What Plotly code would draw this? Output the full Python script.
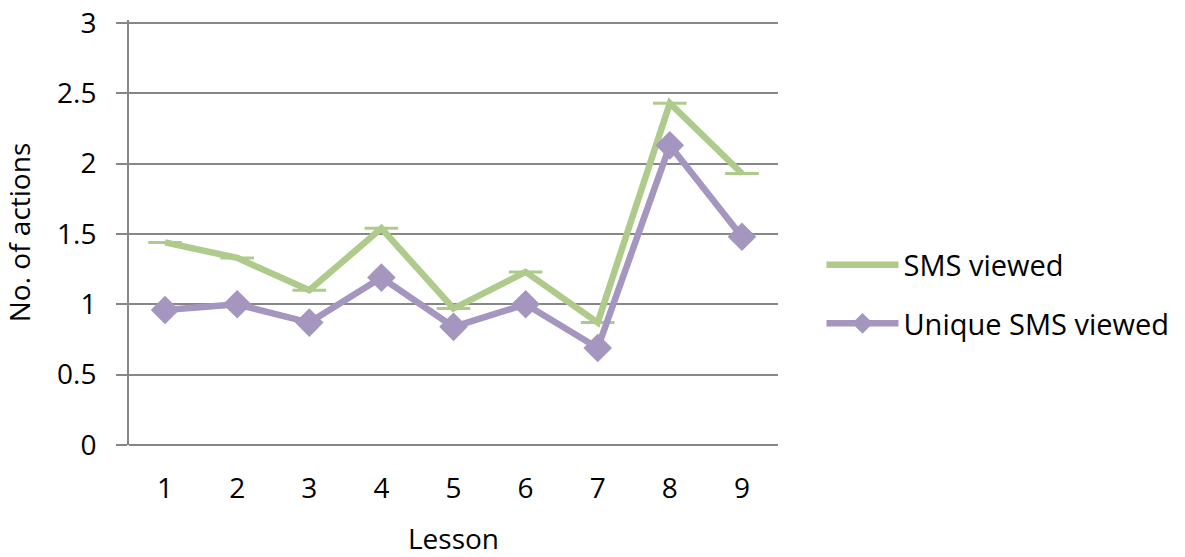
import plotly.graph_objects as go

lessons = ["1", "2", "3", "4", "5", "6", "7", "8", "9"]
sms_viewed = [1.44, 1.33, 1.10, 1.54, 0.97, 1.23, 0.87, 2.43, 1.93]
unique_sms_viewed = [0.96, 1.00, 0.87, 1.19, 0.84, 1.00, 0.69, 2.13, 1.48]
y_ticks = [0, 0.5, 1, 1.5, 2, 2.5, 3]
y_tick_labels = ["0", "0.5", "1", "1.5", "2", "2.5", "3"]

green = "#AECB8C"
purple = "#A596C0"
grid = "#878787"
font_family = "Open Sans, Noto Sans, sans-serif"
fs = 28

fig = go.Figure()
fig.add_trace(go.Scatter(
    x=lessons, y=sms_viewed, name="SMS viewed", mode="lines+markers",
    line=dict(color=green, width=6.5),
    marker=dict(symbol="line-ew", size=24, line=dict(color=green, width=3), color=green),
    legendgroup="a",
))
fig.add_trace(go.Scatter(
    x=lessons, y=unique_sms_viewed, name="Unique SMS viewed", mode="lines+markers",
    line=dict(color=purple, width=6.5),
    marker=dict(symbol="diamond", size=22, color=purple),
    legendgroup="b",
))

fig.update_layout(
    width=1185, height=557,
    margin=dict(l=129, r=407, t=20, b=112, autoexpand=False),
    paper_bgcolor="white", plot_bgcolor="white",
    font=dict(family=font_family, size=fs, color="#000000"),
    showlegend=True,
    legend=dict(x=1.067, y=0.484, xanchor="left", yanchor="top",
                font=dict(size=29), tracegroupgap=18, traceorder="grouped",
                itemwidth=72, bgcolor="rgba(0,0,0,0)"),
    xaxis=dict(
        type="category", range=[-0.5, 8.5], automargin=False,
        showgrid=False, showline=False, ticks="",
        title=dict(text="Lesson", font=dict(size=fs), standoff=45),
        ticklabelstandoff=24,
    ),
    yaxis=dict(
        range=[0, 3.021], tickvals=y_ticks, ticktext=y_tick_labels, automargin=False,
        showgrid=True, gridcolor=grid, gridwidth=2,
        showline=True, linecolor=grid, linewidth=2,
        ticks="outside", ticklen=11, tickcolor=grid, tickwidth=2,
        zeroline=True, zerolinecolor=grid, zerolinewidth=2,
        ticklabelstandoff=14, ticklabeloverflow="allow",
        title=dict(text="No. of actions", font=dict(size=fs), standoff=40),
    ),
)

fig.write_html("out.html", config={"displayModeBar": False},
               post_script="document.body.style.margin='0';")
